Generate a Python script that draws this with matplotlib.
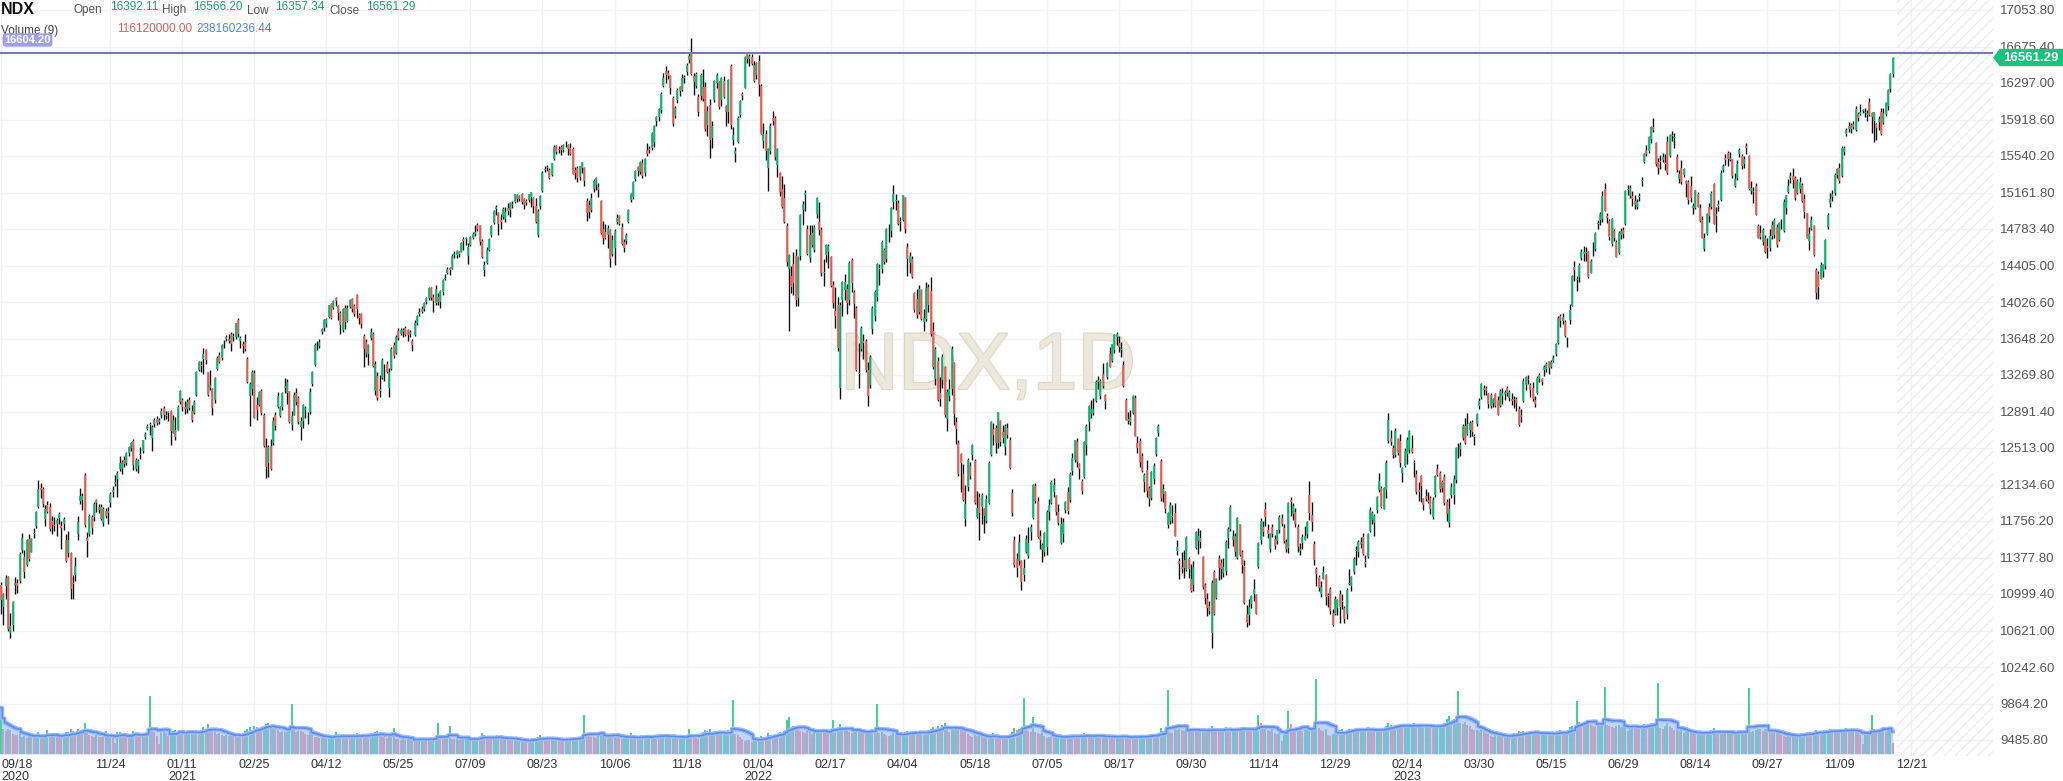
import numpy as np
import pandas as pd
import matplotlib
matplotlib.use('Agg')
import matplotlib.pyplot as plt
from matplotlib.patches import Rectangle, Polygon
import matplotlib.patheffects as pe

# NDX daily bars, 2020-09-18 .. 2023-12-13 (one line per month)
opens = [
    11090, 10860, 11080, 11180, 10600, 10680, 11090, 11110, 11130,
    11460, 11380, 11300, 11570, 11440, 11620, 11700, 11900, 12100, 12090, 11780, 11920, 11900, 11760, 11700, 11720, 11790, 11700, 11730, 11560, 11420, 11420,
    11110, 11200, 11620, 11960, 11970, 12230, 11580, 11620, 11800, 11800, 11970, 11870, 11900, 11740, 11860, 11840, 11940, 12060, 12140, 12190,
    12300, 12300, 12390, 12360, 12460, 12510, 12590, 12300, 12330, 12450, 12480, 12630, 12710, 12760, 12620, 12760, 12810, 12780, 12860, 12930, 12860, 12880,
    12900, 12670, 12700, 12700, 12990, 13010, 12940, 12920, 13010, 12900, 12880, 13060, 13320, 13370, 13440, 13530, 13300, 13130, 13120,
    13010, 13330, 13480, 13450, 13610, 13660, 13620, 13700, 13660, 13660, 13840, 13620, 13590, 13610, 13440, 13050, 13120, 13290, 12960,
    12960, 13100, 12860, 12520, 12360, 12530, 12560, 12860, 12940, 12840, 12940, 13160, 13080, 13100, 12750, 12860, 13080, 13030, 12730, 12790, 12910, 12850, 12890,
    13180, 13370, 13570, 13570, 13720, 13760, 13800, 13870, 14010, 13960, 14070, 13990, 13910, 13740, 13960, 13830, 13970, 14060, 13990, 14100, 13890,
    13900, 13670, 13610, 13490, 13650, 13700, 13100, 13260, 13100, 13240, 13350, 13380, 13130, 13330, 13580, 13500, 13730, 13700, 13720, 13760,
    13740, 13690, 13620, 13680, 13810, 13900, 13950, 13950, 14030, 14070, 14170, 14080, 14020, 14080, 14030, 14130, 14270, 14330, 14380, 14370, 14510, 14510,
    14550, 14550, 14680, 14680, 14500, 14620, 14690, 14730, 14820, 14820, 14660, 14360, 14430, 14570, 14720, 14850, 14990, 14950, 14880, 14910, 14890,
    15000, 14980, 15030, 15060, 15140, 15090, 15150, 15090, 15050, 15080, 15110, 15100, 15020, 14720, 15020, 15180, 15390, 15420, 15400, 15340, 15510, 15640,
    15600, 15630, 15600, 15670, 15650, 15620, 15610, 15400, 15420, 15320, 15420, 15420, 15070, 15030, 14980, 15200, 15240, 15220, 15070, 14780, 14750,
    14720, 14770, 14520, 14590, 14860, 14920, 14800, 14650, 14660, 14860, 15080, 15120, 15300, 15430, 15370, 15470, 15360, 15600, 15610, 15620, 15690,
    15900, 15940, 16020, 16270, 16420, 16400, 16370, 16140, 15960, 16120, 16260, 16220, 16350, 16410, 16540, 16620, 16370, 16270, 16150, 16160, 16260,
    16260, 15860, 16070, 15730, 16120, 16300, 16310, 16120, 16320, 16060, 16000, 16470, 15710, 15560, 15690, 15970, 16180, 16250, 16600, 16550, 16570, 16480,
    16380, 16530, 16270, 15700, 15770, 15420, 15590, 15930, 15930, 15450, 15360, 15200, 15100, 14810, 14370, 14300, 14420, 14500, 14070, 14500,
    14980, 15140, 14780, 14480, 14740, 14570, 14940, 14860, 14770, 14330, 14510, 14540, 14490, 14200, 13930, 14000, 13130, 14050, 14150,
    14160, 14050, 14460, 14130, 13960, 13290, 13540, 13620, 13620, 13320, 13170, 13750, 13880, 14080, 14380, 14370, 14570, 14470, 14800, 14760, 15060, 15070, 15050,
    14860, 14880, 15100, 14600, 14430, 14470, 14120, 14060, 13920, 14150, 13820, 13850, 14180, 14140, 13730, 13230, 13420, 13080, 13220, 13350,
    12810, 13050, 13120, 13390, 12780, 12560, 12450, 12240, 11780, 12110, 12330, 12440, 12380, 11800, 12000, 11900, 11880, 11760, 11940, 12440, 12710,
    12720, 12560, 12790, 12680, 12520, 12720, 12600, 12050, 11560, 11360, 11340, 11340, 11200, 11440, 11390, 11640, 11790, 12120, 11960, 11600, 11460,
    11440, 11490, 11850, 11940, 12060, 12020, 11850, 11530, 11620, 11870, 12060, 11970, 12270, 12390, 12580, 12350, 12170, 12210, 12540, 12780,
    12870, 12880, 13000, 13200, 13050, 13280, 13060, 13250, 13490, 13410, 13530, 13660, 13600, 13530, 13370, 13010, 12810, 12780, 12880, 13030, 12570, 12590, 12430,
    12160, 12290, 12100, 11990, 12190, 12450, 12670, 12380, 12040, 12060, 11710, 11760, 11800, 11840, 11450, 11340, 11280, 11350, 11250, 11360, 11150,
    11090, 11480, 11550, 11580, 11380, 11090, 10950, 10870, 10600, 11230, 10960, 11370, 11320, 11220, 11240, 11580, 11670, 11560, 11600, 11370, 11720,
    11440, 11290, 10790, 10780, 10900, 11000, 10990, 11280, 11560, 11690, 11880, 11660, 11470, 11690, 11570, 11550, 11660, 11790, 11680, 11540, 11480,
    11970, 11830, 11850, 11690, 11450, 11530, 11560, 11620, 12030, 11820, 11520, 11260, 11180, 11000, 11160, 11200, 10980, 11050, 10800, 10790, 10850,
    11000, 10930, 10850, 10790, 11110, 11080, 11230, 11450, 11440, 11520, 11590, 11330, 11380, 11650, 11770, 11740, 11870, 12080, 12100, 11880,
    12080, 12590, 12620, 12510, 12440, 12610, 12590, 12250, 12330, 12450, 12490, 12510, 12360, 12240, 12080, 12220, 11980, 12020, 11970,
    11990, 11800, 12030, 12300, 12250, 12100, 12210, 11950, 11740, 12030, 12030, 12180, 12520, 12500, 12620, 12740, 12660, 12700, 12780, 12640, 12760, 12950, 13040,
    13130, 13140, 13070, 12950, 12980, 13070, 13010, 12950, 13050, 13070, 13130, 13030, 13020, 13010, 13020, 12920, 12850, 13000, 13170,
    13220, 13170, 13130, 13010, 13080, 13230, 13230, 13320, 13330, 13410, 13350, 13410, 13490, 13600, 13880, 13830, 13820, 13600, 13840, 13990, 14390, 14270,
    14290, 14480, 14520, 14530, 14540, 14330, 14530, 14580, 14840, 14880, 14890, 15200, 14920, 14870, 14630, 14760, 14650, 14530, 14720, 14770, 14840,
    15190, 15130, 15130, 15070, 15010, 15110, 15280, 15480, 15600, 15590, 15720, 15840, 15680, 15480, 15490, 15500, 15470, 15690, 15540, 15750,
    15730, 15530, 15300, 15420, 15340, 15280, 15270, 15230, 15000, 15000, 15150, 15000, 14880, 14580, 14730, 15010, 15010, 15250, 14920, 15020, 15080, 15390, 15520,
    15570, 15500, 15510, 15230, 15310, 15560, 15540, 15460, 15640, 15540, 15180, 15170, 15230, 14810, 14740, 14650, 14690, 14610, 14590, 14820,
    14720, 14800, 14670, 14850, 14760, 15000, 15170, 15310, 15330, 15310, 15160, 15200, 15240, 15090, 14950, 14660, 14780, 14810, 14360, 14320, 14270, 14350,
    14400, 14800, 15050, 15110, 15160, 15340, 15420, 15330, 15580, 15770, 15850, 15820, 15870, 15810, 15980, 15980, 16010, 15990, 15970, 16100, 15990,
    15900, 15870, 15890, 16000, 15880, 15980, 16060, 16230, 16392.11,
]
highs = [
    11120, 11010, 11200, 11190, 10800, 10930, 11180, 11160, 11430,
    11630, 11460, 11570, 11620, 11580, 11680, 11860, 12180, 12150, 12110, 11920, 11960, 11940, 11810, 11800, 11790, 11850, 11760, 11800, 11620, 11650, 11430,
    11200, 11380, 11810, 12100, 12050, 12250, 11640, 11830, 11820, 11950, 11980, 11930, 11930, 11900, 11890, 11900, 12060, 12120, 12230, 12270,
    12430, 12390, 12430, 12470, 12530, 12580, 12610, 12410, 12400, 12520, 12600, 12680, 12760, 12780, 12750, 12820, 12840, 12820, 12930, 12950, 12900, 12900,
    12910, 12860, 12830, 12960, 13110, 13030, 13000, 13020, 13040, 12960, 13010, 13310, 13420, 13420, 13550, 13540, 13300, 13320, 13140,
    13250, 13470, 13510, 13590, 13630, 13680, 13690, 13720, 13710, 13810, 13860, 13670, 13620, 13700, 13460, 13200, 13320, 13320, 13040,
    13100, 13120, 12880, 12620, 12540, 12610, 12830, 12890, 13090, 12950, 13090, 13240, 13230, 13100, 12900, 13090, 13130, 13050, 12830, 12970, 12950, 12890, 13130,
    13310, 13600, 13620, 13640, 13760, 13850, 13860, 14000, 14020, 14050, 14080, 14000, 13930, 13960, 14000, 14000, 14060, 14070, 14010, 14110, 13910,
    13910, 13690, 13640, 13590, 13760, 13720, 13410, 13300, 13270, 13450, 13380, 13420, 13340, 13560, 13610, 13680, 13760, 13760, 13760, 13780,
    13750, 13740, 13640, 13840, 13890, 13960, 13990, 14030, 14080, 14180, 14180, 14110, 14200, 14120, 14150, 14270, 14320, 14390, 14390, 14520, 14560, 14570,
    14560, 14650, 14700, 14700, 14640, 14710, 14750, 14830, 14850, 14830, 14680, 14450, 14600, 14690, 14830, 14980, 15030, 14960, 14940, 15010, 15010,
    15050, 15060, 15070, 15150, 15150, 15140, 15160, 15100, 15090, 15150, 15170, 15110, 15100, 14990, 15140, 15380, 15440, 15450, 15420, 15470, 15650, 15650,
    15640, 15650, 15660, 15700, 15660, 15680, 15630, 15430, 15440, 15440, 15480, 15430, 15100, 15080, 15160, 15300, 15320, 15260, 15080, 14870, 14840,
    14830, 14780, 14720, 14780, 14940, 14930, 14850, 14680, 14740, 14990, 15160, 15280, 15400, 15440, 15490, 15510, 15520, 15670, 15640, 15790, 15860,
    15960, 16040, 16200, 16400, 16470, 16430, 16380, 16160, 16060, 16240, 16270, 16390, 16380, 16500, 16620, 16764, 16400, 16410, 16180, 16400, 16440,
    16310, 16060, 16130, 15900, 16330, 16400, 16320, 16360, 16370, 16070, 16340, 16490, 15840, 15630, 15950, 16120, 16200, 16580, 16600, 16600, 16600, 16520,
    16510, 16590, 16290, 15880, 15810, 15620, 15880, 16010, 15950, 15620, 15370, 15330, 15250, 14850, 14520, 14400, 14550, 14580, 14500, 14940,
    15070, 15190, 14830, 14830, 14820, 14830, 15110, 15060, 14800, 14470, 14630, 14630, 14500, 14240, 14180, 14080, 14030, 14240, 14320,
    14210, 14450, 14480, 14150, 13990, 13600, 13780, 13690, 13640, 13400, 13480, 13980, 14150, 14430, 14420, 14670, 14590, 14790, 14840, 15010, 15240, 15150, 15080,
    14910, 15140, 15110, 14640, 14550, 14500, 14130, 14160, 14200, 14160, 13950, 14230, 14210, 14290, 13820, 13560, 13460, 13250, 13490, 13360,
    13120, 13230, 13570, 13400, 12830, 12600, 12460, 12350, 12130, 12410, 12370, 12550, 12400, 12070, 12050, 12050, 11890, 12030, 12380, 12790, 12770,
    12750, 12890, 12800, 12750, 12760, 12770, 12630, 12090, 11600, 11420, 11620, 11350, 11360, 11610, 11690, 11730, 12140, 12150, 12010, 11660, 11530,
    11640, 11870, 11980, 12180, 12200, 12030, 11930, 11800, 11790, 11960, 12110, 12260, 12460, 12600, 12620, 12360, 12190, 12590, 12760, 12960,
    13010, 13030, 13220, 13260, 13230, 13390, 13070, 13400, 13560, 13590, 13690, 13720, 13670, 13610, 13420, 13030, 12890, 12910, 13060, 13060, 12640, 12620, 12460,
    12250, 12390, 12120, 12270, 12360, 12630, 12760, 12400, 12140, 12070, 11850, 11950, 11920, 11940, 11560, 11370, 11440, 11460, 11600, 11380, 11310,
    11340, 11650, 11680, 11660, 11390, 11110, 11010, 10930, 11140, 11250, 11170, 11400, 11360, 11370, 11560, 11690, 11920, 11660, 11630, 11800, 11730,
    11460, 11350, 10890, 10950, 10990, 11160, 11000, 11540, 11790, 11760, 11950, 11720, 11630, 11730, 11610, 11660, 11820, 11830, 11720, 11570, 11950,
    12010, 11940, 11890, 11720, 11530, 11620, 11700, 11760, 12166, 11950, 11550, 11280, 11200, 11130, 11290, 11210, 11010, 11070, 10840, 10980, 10950,
    11040, 11000, 10870, 11060, 11260, 11190, 11380, 11500, 11560, 11590, 11630, 11400, 11630, 11900, 11860, 11830, 12020, 12250, 12120, 12110,
    12390, 12880, 12700, 12540, 12720, 12620, 12660, 12320, 12510, 12630, 12700, 12650, 12390, 12280, 12160, 12230, 11990, 12090, 12060,
    12020, 12010, 12230, 12350, 12270, 12180, 12240, 11980, 11990, 12150, 12230, 12520, 12560, 12580, 12760, 12820, 12880, 12790, 12800, 12660, 12880, 13030, 13190,
    13170, 13160, 13080, 13080, 13030, 13080, 13050, 13120, 13130, 13110, 13160, 13110, 13080, 13050, 13040, 12950, 12920, 13240, 13260,
    13270, 13190, 13200, 13050, 13260, 13290, 13240, 13370, 13400, 13420, 13430, 13480, 13600, 13880, 13900, 13910, 13840, 13660, 14010, 14310, 14450, 14300,
    14430, 14580, 14610, 14600, 14560, 14470, 14650, 14750, 14880, 14960, 15180, 15260, 14950, 14890, 14900, 14780, 14670, 14760, 14790, 14800, 15190,
    15240, 15240, 15180, 15140, 15090, 15160, 15320, 15570, 15650, 15750, 15850, 15932, 15690, 15520, 15550, 15570, 15560, 15750, 15770, 15800,
    15780, 15560, 15400, 15500, 15420, 15290, 15290, 15330, 15050, 15190, 15170, 15040, 14920, 14740, 14950, 15050, 15180, 15260, 15010, 15080, 15390, 15460, 15560,
    15590, 15580, 15510, 15360, 15500, 15620, 15560, 15540, 15680, 15550, 15280, 15220, 15260, 14840, 14830, 14790, 14720, 14690, 14780, 14870,
    14900, 14840, 14860, 14890, 15090, 15140, 15300, 15370, 15420, 15330, 15300, 15320, 15260, 15150, 14950, 14800, 14920, 14820, 14380, 14350, 14440, 14420,
    14680, 14950, 15160, 15190, 15360, 15420, 15470, 15640, 15640, 15830, 15890, 15880, 15900, 16060, 16000, 16080, 16030, 16040, 16020, 16140, 16000,
    16000, 15880, 15960, 16040, 16040, 16100, 16230, 16400, 16566.20,
]
lows = [
    10790, 10680, 10950, 10620, 10540, 10620, 11000, 11010, 11110,
    11420, 11170, 11290, 11340, 11430, 11580, 11680, 11890, 11990, 11900, 11700, 11840, 11650, 11620, 11650, 11600, 11720, 11470, 11660, 11330, 11380, 10950,
    10950, 11130, 11560, 11930, 11870, 11690, 11380, 11600, 11620, 11760, 11850, 11840, 11770, 11700, 11790, 11720, 11900, 12000, 12120, 12000,
    12270, 12240, 12320, 12340, 12430, 12480, 12280, 12270, 12250, 12400, 12460, 12610, 12700, 12650, 12480, 12730, 12750, 12760, 12820, 12800, 12810, 12790,
    12540, 12670, 12600, 12700, 12970, 12900, 12870, 12880, 12910, 12780, 12870, 13050, 13310, 13300, 13280, 13380, 13050, 13110, 12850,
    12980, 13320, 13390, 13430, 13550, 13620, 13600, 13520, 13620, 13640, 13660, 13550, 13500, 13520, 13190, 12740, 13060, 12820, 12800,
    12950, 12850, 12520, 12200, 12210, 12290, 12540, 12700, 12930, 12830, 12910, 13080, 12970, 12770, 12700, 12850, 12960, 12760, 12600, 12720, 12820, 12760, 12870,
    13160, 13360, 13530, 13550, 13700, 13730, 13770, 13860, 13850, 13950, 13990, 13840, 13690, 13720, 13750, 13820, 13960, 13920, 13880, 13860, 13800,
    13760, 13350, 13460, 13370, 13630, 13350, 13060, 13010, 13040, 13230, 13210, 13290, 13040, 13320, 13450, 13490, 13630, 13680, 13660, 13670,
    13620, 13660, 13520, 13670, 13790, 13880, 13910, 13930, 14010, 14050, 14050, 13920, 14000, 14000, 13960, 14100, 14250, 14320, 14310, 14370, 14480, 14480,
    14490, 14540, 14570, 14620, 14420, 14610, 14680, 14710, 14760, 14620, 14480, 14300, 14420, 14560, 14700, 14840, 14930, 14720, 14780, 14890, 14860,
    14930, 14910, 15000, 15050, 15060, 15070, 15040, 14990, 15030, 15060, 15010, 14950, 14850, 14700, 14990, 15170, 15370, 15380, 15300, 15330, 15500, 15560,
    15570, 15550, 15580, 15630, 15550, 15550, 15350, 15300, 15270, 15290, 15360, 15230, 14870, 14900, 14960, 15170, 15190, 15120, 14730, 14630, 14680,
    14590, 14390, 14500, 14410, 14840, 14820, 14620, 14540, 14630, 14850, 15060, 15090, 15280, 15330, 15350, 15310, 15330, 15540, 15570, 15600, 15630,
    15850, 15900, 15990, 16260, 16300, 16340, 16180, 15850, 15930, 16090, 16160, 16210, 16300, 16380, 16500, 16380, 16170, 16250, 15960, 16120, 16110,
    15800, 15750, 15520, 15620, 16100, 16250, 16030, 16060, 16140, 15850, 15880, 15820, 15650, 15480, 15680, 15940, 16120, 16240, 16500, 16470, 16480, 16310,
    16340, 16160, 15770, 15620, 15500, 15180, 15560, 15860, 15500, 15320, 15130, 15000, 14850, 14400, 13725, 14120, 14100, 13990, 13990, 14460,
    14830, 14970, 14510, 14440, 14600, 14550, 14900, 14720, 14300, 14190, 14440, 14380, 14180, 13960, 13760, 13520, 13020, 13880, 14050,
    13900, 14000, 14130, 13860, 13310, 13130, 13520, 13440, 13300, 12950, 13140, 13700, 13830, 14040, 14200, 14330, 14420, 14440, 14650, 14700, 14990, 14980, 14830,
    14760, 14870, 14740, 14300, 14330, 14280, 13920, 13860, 13900, 13840, 13730, 13830, 13920, 13670, 13330, 13170, 13000, 12950, 13140, 12830,
    12690, 13000, 13060, 12750, 12550, 12220, 12060, 11960, 11700, 12070, 12190, 12390, 11930, 11790, 11560, 11720, 11630, 11740, 11930, 12430, 12540,
    12460, 12510, 12530, 12560, 12440, 12620, 12300, 11810, 11280, 11180, 11300, 11040, 11130, 11420, 11370, 11560, 11780, 11940, 11580, 11470, 11330,
    11390, 11400, 11770, 11930, 12010, 11820, 11710, 11520, 11540, 11840, 11830, 11950, 12230, 12370, 12320, 12190, 12040, 12200, 12440, 12690,
    12820, 12850, 12990, 13120, 13020, 13130, 12920, 13230, 13350, 13400, 13500, 13580, 13510, 13460, 13150, 12800, 12760, 12750, 12870, 12640, 12460, 12320, 12260,
    12060, 12010, 11910, 11970, 12140, 12430, 12640, 11960, 11950, 11840, 11680, 11720, 11740, 11600, 11400, 11160, 11220, 11170, 11240, 11170, 11020,
    11030, 11470, 11410, 11480, 11050, 10900, 10770, 10790, 10440, 10780, 10950, 11140, 11150, 11180, 11200, 11480, 11650, 11500, 11390, 11360, 11390,
    11220, 10900, 10660, 10680, 10850, 10930, 10790, 11270, 11520, 11600, 11700, 11580, 11440, 11590, 11470, 11520, 11630, 11700, 11530, 11440, 11420,
    11810, 11770, 11690, 11440, 11400, 11470, 11560, 11580, 11770, 11650, 11300, 11080, 11030, 10970, 11150, 10890, 10860, 10790, 10670, 10780, 10780,
    10700, 10840, 10700, 10740, 11090, 11030, 11210, 11300, 11380, 11480, 11400, 11280, 11370, 11640, 11720, 11600, 11840, 12060, 11890, 11880,
    11990, 12570, 12540, 12410, 12420, 12440, 12320, 12160, 12320, 12350, 12460, 12460, 12210, 12040, 11960, 11950, 11870, 11960, 11940,
    11830, 11780, 12010, 12220, 12060, 12060, 11920, 11760, 11695, 11990, 11930, 12150, 12410, 12430, 12600, 12550, 12650, 12630, 12640, 12540, 12740, 12920, 13020,
    13060, 13060, 12930, 12930, 12940, 12940, 12850, 12940, 12970, 13010, 13050, 13000, 12960, 12930, 12900, 12740, 12780, 12990, 13110,
    13180, 13040, 13000, 12940, 13070, 13200, 13170, 13260, 13300, 13280, 13340, 13400, 13470, 13590, 13770, 13800, 13660, 13560, 13800, 13980, 14240, 14140,
    14230, 14460, 14450, 14450, 14280, 14330, 14500, 14560, 14780, 14820, 14860, 14970, 14850, 14670, 14610, 14660, 14490, 14520, 14680, 14690, 14830,
    15140, 15100, 15020, 14990, 14990, 15070, 15230, 15470, 15540, 15570, 15680, 15790, 15440, 15350, 15410, 15480, 15390, 15350, 15530, 15700,
    15620, 15370, 15260, 15250, 15320, 15120, 15040, 15060, 14940, 14990, 15010, 14860, 14690, 14560, 14720, 14860, 14990, 14840, 14750, 14970, 15070, 15370, 15450,
    15440, 15490, 15310, 15220, 15290, 15530, 15410, 15420, 15560, 15190, 15150, 15050, 14930, 14690, 14680, 14620, 14530, 14480, 14560, 14680,
    14690, 14600, 14660, 14780, 14750, 14940, 15160, 15260, 15210, 15080, 15150, 15160, 15060, 14900, 14690, 14570, 14770, 14500, 14058, 14060, 14260, 14290,
    14370, 14780, 15010, 15070, 15140, 15310, 15260, 15320, 15550, 15750, 15790, 15780, 15820, 15800, 15900, 15970, 15990, 15940, 15900, 15950, 15780,
    15690, 15710, 15810, 15760, 15870, 15950, 16020, 16200, 16357.34,
]
closes = [
    10936, 10999, 11166, 10633, 10672, 10914, 11117, 11087, 11418,
    11583, 11228, 11555, 11364, 11566, 11630, 11853, 12088, 12080, 11930, 11878, 11852, 11676, 11710, 11717, 11765, 11829, 11687, 11779, 11346, 11556, 11052,
    11100, 11294, 11749, 12016, 12014, 11713, 11553, 11809, 11686, 11937, 11938, 11899, 11773, 11884, 11811, 11864, 12037, 12082, 12161, 12258,
    12355, 12366, 12346, 12465, 12519, 12562, 12339, 12393, 12378, 12440, 12595, 12658, 12738, 12756, 12731, 12807, 12771, 12804, 12900, 12850, 12845, 12888,
    12694, 12802, 12624, 12939, 13106, 12938, 12919, 12990, 12924, 12803, 12995, 13297, 13406, 13366, 13483, 13426, 13066, 13170, 12925,
    13235, 13447, 13404, 13578, 13612, 13644, 13643, 13596, 13671, 13807, 13698, 13649, 13567, 13535, 13202, 13175, 13302, 12829, 12909,
    13089, 12875, 12531, 12315, 12525, 12299, 12798, 12736, 13057, 12937, 13087, 13132, 13199, 12781, 12841, 13065, 12989, 12780, 12791, 12962, 12924, 12852, 13091,
    13305, 13581, 13568, 13610, 13745, 13845, 13850, 13997, 13858, 14042, 14041, 13914, 13786, 13950, 13818, 13961, 14052, 13951, 13900, 13958, 13860,
    13796, 13544, 13483, 13582, 13720, 13359, 13389, 13032, 13124, 13430, 13356, 13303, 13299, 13535, 13471, 13661, 13657, 13738, 13736, 13687,
    13684, 13719, 13579, 13814, 13881, 13925, 13924, 14020, 14070, 14174, 14073, 14040, 14161, 14030, 14140, 14253, 14272, 14369, 14360, 14500, 14528, 14554,
    14522, 14640, 14664, 14687, 14594, 14700, 14733, 14751, 14787, 14645, 14493, 14412, 14567, 14676, 14817, 14975, 15007, 14832, 14855, 14987, 14959,
    14968, 15049, 15047, 15142, 15096, 15127, 15065, 15037, 15078, 15146, 15164, 15022, 14858, 14965, 15129, 15363, 15402, 15429, 15312, 15463, 15637, 15583,
    15611, 15599, 15652, 15671, 15616, 15560, 15358, 15365, 15313, 15436, 15473, 15281, 14949, 14962, 15105, 15276, 15316, 15187, 14741, 14688, 14689,
    14795, 14472, 14674, 14762, 14896, 14840, 14626, 14586, 14720, 14982, 15146, 15275, 15389, 15382, 15480, 15335, 15506, 15566, 15598, 15778, 15850,
    15945, 16032, 16184, 16350, 16385, 16372, 16245, 15867, 16036, 16226, 16215, 16347, 16353, 16484, 16573, 16392, 16312, 16389, 15998, 16377, 16135,
    15825, 16007, 15711, 15847, 16317, 16376, 16048, 16354, 16157, 15999, 16325, 15863, 15754, 15587, 15935, 16109, 16158, 16567, 16546, 16575, 16491, 16320,
    16501, 16280, 15771, 15765, 15595, 15614, 15854, 15906, 15526, 15612, 15170, 15016, 14855, 14439, 14509, 14178, 14220, 14050, 14491, 14930,
    15045, 15159, 14525, 14719, 14622, 14800, 15104, 14777, 14327, 14341, 14620, 14611, 14189, 14016, 13880, 13546, 13999, 14234, 14238,
    14020, 14427, 14225, 14005, 13320, 13276, 13754, 13602, 13319, 13047, 13459, 13964, 14135, 14418, 14366, 14648, 14445, 14786, 14809, 15004, 15150, 15083, 14838,
    14861, 15134, 14781, 14469, 14501, 14290, 13943, 13894, 14165, 13852, 13865, 14172, 13993, 13697, 13357, 13536, 13006, 13016, 13455, 12855,
    13097, 13121, 13544, 12862, 12713, 12245, 12358, 11971, 11934, 12387, 12227, 12542, 11940, 11889, 11835, 12029, 11805, 11980, 12354, 12782, 12643,
    12563, 12883, 12575, 12618, 12739, 12650, 12310, 11843, 11304, 11264, 11542, 11128, 11274, 11566, 11523, 11695, 12134, 11963, 11595, 11562, 11504,
    11627, 11849, 11920, 12161, 12126, 11853, 11738, 11720, 11751, 11952, 11861, 12248, 12411, 12591, 12373, 12297, 12064, 12577, 12739, 12947,
    12919, 12915, 13202, 13213, 13207, 13155, 13005, 13390, 13356, 13586, 13681, 13696, 13555, 13541, 13157, 12807, 12797, 12831, 13049, 12642, 12511, 12372, 12272,
    12232, 12069, 11987, 12262, 12331, 12613, 12740, 11992, 12083, 11882, 11834, 11921, 11807, 11604, 11482, 11312, 11254, 11271, 11587, 11261, 11028,
    11281, 11641, 11603, 11535, 11073, 10962, 10853, 10822, 11114, 10790, 11154, 11270, 11254, 11283, 11541, 11671, 11903, 11602, 11430, 11788, 11405,
    11296, 10906, 10699, 10868, 10977, 11052, 10793, 11533, 11755, 11637, 11797, 11626, 11621, 11624, 11502, 11658, 11795, 11727, 11552, 11470, 11940,
    11952, 11910, 11728, 11489, 11464, 11588, 11605, 11751, 11835, 11742, 11350, 11208, 11060, 11075, 11228, 10967, 10986, 10822, 10680, 10951, 10939,
    10863, 10915, 10741, 11040, 11108, 11175, 11364, 11459, 11542, 11542, 11419, 11307, 11624, 11869, 11835, 11813, 12006, 12167, 11897, 12101,
    12353, 12804, 12574, 12441, 12685, 12462, 12354, 12305, 12485, 12596, 12691, 12469, 12358, 12057, 12060, 12122, 11918, 11987, 11955,
    11878, 11976, 12226, 12237, 12087, 12162, 11943, 11830, 11876, 12113, 12194, 12509, 12519, 12546, 12743, 12560, 12762, 12767, 12680, 12628, 12867, 12996, 13181,
    13113, 13103, 12967, 13062, 13018, 12952, 12853, 13099, 13079, 13090, 13083, 13093, 12998, 13014, 12982, 12747, 12830, 13203, 13246,
    13226, 13119, 13021, 12973, 13240, 13271, 13193, 13354, 13389, 13340, 13407, 13442, 13590, 13865, 13826, 13876, 13672, 13604, 13940, 14298, 14355, 14254,
    14410, 14546, 14547, 14541, 14288, 14453, 14538, 14741, 14846, 14942, 15125, 14972, 14899, 14696, 14890, 14692, 14497, 14740, 14761, 14734, 15179,
    15201, 15210, 15099, 15033, 15067, 15127, 15296, 15561, 15565, 15733, 15840, 15814, 15462, 15420, 15474, 15535, 15455, 15363, 15757, 15757,
    15735, 15390, 15349, 15274, 15408, 15254, 15080, 15109, 15024, 15189, 15016, 14865, 14695, 14694, 14942, 14918, 15157, 14840, 14941, 15046, 15359, 15436, 15501,
    15514, 15519, 15338, 15299, 15461, 15603, 15436, 15509, 15625, 15202, 15212, 15179, 14933, 14694, 14701, 14772, 14546, 14586, 14716, 14715,
    14881, 14620, 14848, 14842, 15063, 15136, 15234, 15336, 15291, 15104, 15282, 15270, 15070, 14955, 14693, 14734, 14873, 14509, 14120, 14180, 14410, 14409,
    14666, 14931, 15099, 15146, 15344, 15406, 15281, 15626, 15621, 15812, 15825, 15860, 15840, 16027, 15931, 16001, 16016, 15999, 15985, 15966, 15947,
    15997, 15826, 15924, 15768, 15990, 16085, 16221, 16393, 16561.29,
]
# volume in millions
volumes = [
    490, 265, 240, 270, 250, 215, 205, 200, 235,
    185, 190, 170, 200, 180, 175, 190, 230, 195, 180, 185, 250, 200, 190, 195, 185, 175, 170, 200, 235, 230, 260,
    240, 210, 270, 230, 210, 330, 250, 200, 190, 185, 200, 185, 180, 175, 240, 200, 210, 170, 120, 230,
    230, 215, 195, 185, 180, 190, 240, 210, 205, 200, 215, 210, 225, 620, 260, 230, 190, 110, 230, 250, 220, 190,
    230, 240, 250, 235, 245, 230, 210, 215, 225, 240, 215, 250, 230, 235, 290, 250, 320, 270, 265,
    230, 215, 220, 200, 195, 200, 195, 210, 190, 180, 210, 205, 190, 240, 260, 290, 255, 300, 285,
    270, 250, 290, 320, 330, 290, 310, 260, 250, 230, 240, 230, 235, 290, 530, 250, 230, 245, 240, 230, 210, 200, 240,
    200, 180, 175, 170, 175, 165, 170, 185, 190, 195, 230, 180, 185, 175, 185, 175, 170, 190, 210, 220, 200,
    175, 210, 190, 185, 190, 210, 230, 240, 230, 200, 180, 170, 190, 185, 280, 160, 155, 150, 160, 150,
    160, 150, 155, 150, 145, 160, 165, 160, 155, 150, 155, 170, 175, 330, 170, 165, 160, 170, 300, 160, 155, 165,
    150, 145, 160, 165, 170, 150, 155, 165, 170, 165, 220, 200, 175, 160, 155, 160, 165, 190, 175, 170, 180,
    155, 150, 145, 150, 140, 145, 150, 140, 135, 130, 160, 165, 170, 175, 200, 160, 155, 150, 145, 155, 150, 165,
    150, 145, 140, 160, 165, 155, 170, 175, 180, 170, 185, 410, 220, 200, 180, 175, 165, 190, 230, 200, 210,
    200, 210, 185, 195, 175, 165, 160, 170, 175, 185, 220, 165, 170, 165, 170, 180, 175, 195, 200, 190, 205,
    180, 175, 185, 195, 200, 175, 180, 200, 170, 165, 170, 175, 180, 190, 260, 210, 200, 180, 160, 190, 230,
    250, 240, 260, 210, 230, 220, 200, 210, 220, 230, 250, 260, 570, 210, 200, 175, 160, 140, 150, 145, 130, 150,
    150, 160, 190, 180, 170, 220, 200, 190, 210, 200, 230, 220, 240, 360, 390, 260, 300, 280, 250, 240,
    230, 220, 300, 260, 210, 220, 230, 270, 250, 240, 230, 220, 240, 360, 250, 260, 320, 270, 250,
    250, 230, 220, 230, 260, 270, 240, 220, 210, 230, 240, 260, 240, 525, 220, 230, 210, 200, 190, 200, 220, 200, 230,
    200, 210, 220, 240, 230, 220, 240, 230, 220, 240, 200, 220, 250, 260, 290, 260, 300, 270, 310, 330,
    260, 230, 250, 290, 260, 280, 270, 250, 240, 210, 190, 180, 200, 190, 230, 180, 170, 175, 160, 165, 220,
    190, 180, 175, 170, 180, 170, 190, 230, 280, 250, 260, 280, 590, 250, 240, 230, 390, 230, 220, 210, 240,
    190, 170, 185, 175, 165, 170, 180, 190, 200, 190, 185, 200, 190, 180, 175, 170, 185, 220, 210, 200,
    180, 185, 200, 190, 170, 180, 175, 200, 190, 180, 170, 185, 190, 180, 200, 175, 170, 165, 160, 200, 180, 190, 200,
    200, 180, 190, 200, 190, 210, 200, 280, 240, 250, 680, 230, 220, 260, 250, 260, 250, 245, 260, 255, 280,
    250, 260, 240, 235, 250, 230, 260, 240, 300, 270, 250, 245, 230, 240, 290, 260, 250, 260, 280, 270, 240,
    260, 280, 270, 260, 240, 250, 260, 410, 330, 280, 300, 250, 240, 260, 220, 210, 220, 140, 230, 240, 455,
    320, 260, 250, 270, 260, 240, 250, 260, 300, 290, 300, 800, 280, 250, 240, 260, 200, 190, 210, 220, 200,
    250, 260, 240, 255, 270, 250, 260, 270, 240, 250, 260, 245, 290, 260, 250, 240, 245, 255, 240, 270,
    300, 330, 310, 290, 300, 310, 290, 280, 290, 300, 300, 310, 330, 290, 300, 310, 280, 290, 300,
    290, 280, 290, 300, 310, 320, 330, 370, 400, 350, 370, 390, 670, 330, 320, 340, 310, 300, 260, 250, 250, 245, 260,
    230, 220, 210, 190, 180, 200, 210, 200, 190, 180, 190, 185, 195, 220, 200, 240, 230, 240, 220,
    210, 230, 240, 230, 220, 200, 210, 220, 230, 210, 215, 210, 230, 240, 250, 230, 220, 240, 290, 300, 260, 560,
    340, 320, 300, 330, 360, 310, 300, 290, 320, 330, 340, 710, 310, 300, 290, 280, 300, 310, 290, 300, 320,
    240, 280, 300, 290, 280, 270, 300, 320, 310, 300, 330, 330, 340, 750, 280, 270, 300, 330, 300, 280,
    250, 260, 240, 250, 220, 230, 240, 230, 220, 210, 220, 225, 230, 220, 230, 240, 250, 280, 220, 210, 230, 225, 230,
    220, 240, 230, 220, 230, 240, 250, 230, 240, 700, 230, 240, 250, 270, 260, 240, 260, 250, 240, 230,
    230, 220, 210, 200, 190, 180, 200, 190, 200, 190, 200, 210, 220, 215, 230, 220, 210, 230, 250, 240, 220, 230,
    240, 250, 260, 245, 240, 250, 240, 250, 235, 280, 260, 240, 270, 230, 220, 200, 110, 220, 240, 230, 410,
    270, 240, 245, 255, 250, 235, 255, 275, 116.12,
]

tick_labels = ['09/18\n2020', '11/24', '01/11\n2021', '02/25', '04/12', '05/25', '07/09',
               '08/23', '10/06', '11/18', '01/04\n2022', '02/17', '04/04', '05/18', '07/05',
               '08/17', '09/30', '11/14', '12/29', '02/14\n2023', '03/30', '05/15', '06/29',
               '08/14', '09/27', '11/09', '12/21']
symbol = 'NDX'
mark_price = 16604.20
vol_ma_text = '238160236.44'

UP = '#12c27b'
DOWN = '#f2675f'

plt.rcParams['font.family'] = ['Liberation Sans', 'DejaVu Sans']
plt.rcParams['hatch.linewidth'] = 0.9

W, H = 2063, 781


def fx(px):
    return px / W


def fy(py):
    return 1 - py / H


o = np.array(opens, float)
hi = np.array(highs, float)
lo = np.array(lows, float)
c = np.array(closes, float)
v = np.array(volumes, float)
n = min(len(o), len(hi), len(lo), len(c), len(v))
o, hi, lo, c, v = o[:n], hi[:n], lo[:n], c[:n], v[:n]
hi = np.maximum(hi, np.maximum(o, c))
lo = np.minimum(lo, np.minimum(o, c))
x = np.arange(n)

fig = plt.figure(figsize=(W / 100, H / 100), dpi=100)
fig.patch.set_facecolor('white')

plot_right = 1993
plot_bottom = 756
ax = fig.add_axes([0, fy(plot_bottom), fx(plot_right), plot_bottom / H])
x0, step = 1.0, 2.324
xl = (-x0 / step, (plot_right - x0) / step)
ax.set_xlim(*xl)
top_tick, tick_step, tick_px = 17053.80, 378.40, 36.5
ax.set_ylim(top_tick - (plot_bottom - 10) * tick_step / tick_px,
            top_tick + 10 * tick_step / tick_px)

price_ticks = [top_tick - tick_step * k for k in range(21)]
ax.set_yticks(price_ticks)
ax.set_yticklabels([f'{t:.2f}' for t in price_ticks])
ax.yaxis.tick_right()
ax.tick_params(axis='y', length=0, pad=5, labelsize=9.5, labelcolor='#555555')

xt = [0] + [47 + 31 * k for k in range(len(tick_labels) - 1)]
ax.set_xticks(xt)
ax.set_xticklabels(tick_labels, linespacing=1.0)
ax.tick_params(axis='x', length=0, pad=2, labelsize=9, labelcolor='#333333')
ax.get_xticklabels()[0].set_ha('left')
ax.grid(True, color='#f2f2f2', lw=1)
ax.set_axisbelow(True)
for s in ax.spines.values():
    s.set_visible(False)

# watermark
ax.text(988 / plot_right, 1 - 368 / plot_bottom, f'{symbol},1D', transform=ax.transAxes,
        ha='center', va='center', fontsize=58, color='#ece8dc', zorder=1,
        path_effects=[pe.withStroke(linewidth=1.6, foreground='#ddd7c4')])

# future area hatch
y0, y1 = ax.get_ylim()
ax.add_patch(Rectangle((n + 0.8, y0), xl[1] - n, y1 - y0,
                       fill=False, hatch='///', edgecolor='#ebebeb', lw=0, zorder=1))

# candles
cols = np.where(c >= o, UP, DOWN)
ax.vlines(x, lo, hi, colors='#111111', lw=1.0, zorder=3)
body_lo = np.minimum(o, c)
body_hi = np.maximum(np.maximum(o, c), body_lo + 6)
ax.vlines(x, body_lo, body_hi, colors=cols, lw=1.3, zorder=4)

ax.axhline(mark_price, color='#7777bd', lw=1.5, zorder=5)

# volume (bar colour follows change of volume vs previous bar)
axv = fig.add_axes([0, fy(plot_bottom), fx(plot_right), plot_bottom / H], frameon=False)
axv.set_xlim(*xl)
mpp = 10.6
axv.set_ylim(-2 * mpp, (plot_bottom - 2) * mpp)
axv.axis('off')
vprev = np.concatenate([[0], v[:-1]])
vcols = np.where(v >= vprev, UP, DOWN)
axv.vlines(x, 0, v, colors=vcols, lw=1.1, zorder=2)
ma = pd.Series(v).rolling(9, min_periods=1).mean().values
axv.fill_between(x, 0, ma, step='mid', color='#9ab8f4', alpha=0.6, lw=0, zorder=3)
axv.plot(x, ma, drawstyle='steps-mid', color='#9dbaf6', lw=3.0, zorder=4)
axv.plot(x, ma, drawstyle='steps-mid', color='#5a8def', lw=1.1, zorder=5)

# header
fig.text(fx(1), fy(9), symbol, fontsize=11.5, weight='bold', color='#111111', va='center')
head = [('Open', opens[-1], 73, 110), ('High', highs[-1], 162, 193),
        ('Low', lows[-1], 247, 275), ('Close', closes[-1], 329, 366)]
for name, val, xa, xb in head:
    fig.text(fx(xa), fy(10.5), name, fontsize=8.5, color='#555555', va='center')
    fig.text(fx(xb), fy(6.5), f'{val:.2f}', fontsize=8.5, color='#1aa366', va='center')
fig.text(fx(1), fy(31), 'Volume (9)', fontsize=8.5, color='#444444', va='center')
vcol_last = '#e05a57' if v[-1] < v[-2] else '#1aa366'
fig.text(fx(117), fy(29), f'{volumes[-1] * 1e6:.2f}', fontsize=8.5, color=vcol_last, va='center')
fig.text(fx(196), fy(29), vol_ma_text, fontsize=8.5, color='#4a84e6', va='center')

fig.text(fx(27.5), fy(40), f'{mark_price:.2f}', fontsize=8, color='white', weight='bold',
         ha='center', va='center',
         bbox=dict(boxstyle='round,pad=0.15,rounding_size=0.3', fc='#9e9ef2', ec='none'))

# last price tag
yl = 10 + (top_tick - closes[-1]) * tick_px / tick_step
tag = Polygon([(fx(1994), fy(yl)), (fx(2000), fy(yl - 8)), (fx(2063), fy(yl - 8)),
               (fx(2063), fy(yl + 8)), (fx(2000), fy(yl + 8))], closed=True,
              transform=fig.transFigure, color='#13c57c', zorder=10)
fig.add_artist(tag)
fig.text(fx(2031), fy(yl), f'{closes[-1]:.2f}', fontsize=9.5, color='white', weight='bold',
         ha='center', va='center', zorder=11)

fig.savefig('out.png', dpi=100)
